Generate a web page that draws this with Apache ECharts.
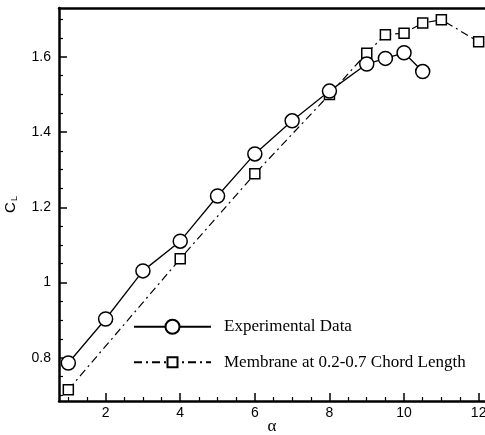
<!DOCTYPE html>
<html>
<head>
<meta charset="utf-8">
<script src="https://cdn.jsdelivr.net/npm/echarts@6/dist/echarts.min.js"></script>
<style>
  html, body { margin: 0; padding: 0; background: #fff; }
  #chart { width: 485px; height: 435px; }
</style>
</head>
<body>
<div id="chart"></div>
<script>
// Lift coefficient versus angle of attack
const expAlpha = [1, 2, 3, 4, 5, 6, 7, 8, 9, 9.5, 10, 10.5];
const expCL = [0.786, 0.903, 1.031, 1.110, 1.230, 1.342, 1.430, 1.509, 1.581, 1.596, 1.611, 1.561];

const memAlpha = [1, 4, 6, 8, 9, 9.5, 10, 10.5, 11, 12];
const memCL = [0.715, 1.063, 1.289, 1.500, 1.610, 1.659, 1.663, 1.690, 1.699, 1.640];

const seriesNames = ['Experimental Data', 'Membrane at 0.2-0.7 Chord Length'];

// Tick positions
const xMajorTicks = [2, 4, 6, 8, 10, 12];
const xMinorTicks = [1, 1.5, 2.5, 3, 3.5, 4.5, 5, 5.5, 6.5, 7, 7.5, 8.5, 9, 9.5, 10.5, 11, 11.5];
const yMajorTicks = [0.8, 1.0, 1.2, 1.4, 1.6];
const yMinorTicks = [0.7, 0.75, 0.85, 0.9, 0.95, 1.05, 1.1, 1.15, 1.25, 1.3, 1.35, 1.45, 1.5, 1.55, 1.65, 1.7];

const X_MIN = 0.75, X_MAX = 12.17;
const Y_MIN = 0.685, Y_MAX = 1.73;

const toPairs = (xs, ys) => xs.map((x, i) => [x, ys[i]]);

const chart = echarts.init(document.getElementById('chart'), null, { renderer: 'canvas' });

const axisFont = { fontFamily: 'Liberation Sans', fontSize: 14, color: '#000' };

const baseX = {
  type: 'value', min: X_MIN, max: X_MAX, splitLine: { show: false }
};
const baseY = {
  type: 'value', min: Y_MIN, max: Y_MAX, splitLine: { show: false }
};

const legendText = { fontFamily: 'Liberation Serif', fontSize: 17, color: '#000', padding: [0, 0, 0, 8] };

chart.setOption({
  animation: false,
  backgroundColor: '#fff',
  grid: { left: 59, top: 8, right: 0, bottom: 34, containLabel: false, outerBoundsMode: 'none' },
  xAxis: [
    Object.assign({}, baseX, {
      position: 'bottom',
      name: 'α',
      nameLocation: 'middle',
      nameGap: 17,
      nameMoveOverlap: false,
      nameTextStyle: { fontFamily: 'Liberation Serif', fontSize: 17, color: '#000' },
      axisLine: { show: true, lineStyle: { color: '#000', width: 2.5 } },
      axisTick: { show: true, inside: true, length: 8, customValues: xMajorTicks, lineStyle: { color: '#000', width: 1.5 } },
      axisLabel: Object.assign({ show: true, margin: 5, customValues: xMajorTicks }, axisFont)
    }),
    Object.assign({}, baseX, {
      position: 'bottom',
      axisLine: { show: false },
      axisTick: { show: true, inside: true, length: 4, customValues: xMinorTicks, lineStyle: { color: '#000', width: 1.2 } },
      axisLabel: { show: false }
    }),
    Object.assign({}, baseX, {
      position: 'top',
      axisLine: { show: true, lineStyle: { color: '#000', width: 2.5 } },
      axisTick: { show: false },
      axisLabel: { show: false }
    })
  ],
  yAxis: [
    Object.assign({}, baseY, {
      position: 'left',
      name: '{c|C}{l|L}',
      nameLocation: 'middle',
      nameRotate: 90,
      nameGap: 40,
      nameMoveOverlap: false,
      nameTextStyle: {
        rich: {
          c: { fontFamily: 'Liberation Sans', fontSize: 15, color: '#000' },
          l: { fontFamily: 'Liberation Sans', fontSize: 9, color: '#000', padding: [8, 0, 0, 1] }
        }
      },
      axisLine: { show: true, lineStyle: { color: '#000', width: 2.5 } },
      axisTick: { show: true, inside: true, length: 8, customValues: yMajorTicks, lineStyle: { color: '#000', width: 1.5 } },
      axisLabel: Object.assign({ show: true, margin: 8, customValues: yMajorTicks }, axisFont)
    }),
    Object.assign({}, baseY, {
      position: 'left',
      axisLine: { show: false },
      axisTick: { show: true, inside: true, length: 4, customValues: yMinorTicks, lineStyle: { color: '#000', width: 1.2 } },
      axisLabel: { show: false }
    })
  ],
  legend: [
    {
      data: [seriesNames[0]],
      left: 133, top: 318.25,
      padding: 0,
      itemWidth: 77, itemHeight: 17.5,
      textStyle: legendText,
      selectedMode: false
    },
    {
      data: [seriesNames[1]],
      left: 133, top: 353.75,
      padding: 0,
      itemWidth: 77, itemHeight: 12.5,
      textStyle: legendText,
      selectedMode: false
    }
  ],
  series: [
    {
      name: seriesNames[1],
      type: 'line',
      xAxisIndex: 0, yAxisIndex: 0,
      data: toPairs(memAlpha, memCL),
      symbol: 'rect',
      symbolSize: 10,
      showAllSymbol: true,
      lineStyle: { color: '#000', width: 1.2, type: [8, 4, 2, 4] },
      itemStyle: { color: '#fff', borderColor: '#000', borderWidth: 1.5 },
      emphasis: { disabled: true },
      z: 2
    },
    {
      name: seriesNames[0],
      type: 'line',
      xAxisIndex: 0, yAxisIndex: 0,
      data: toPairs(expAlpha, expCL),
      symbol: 'circle',
      symbolSize: 14,
      showAllSymbol: true,
      lineStyle: { color: '#000', width: 1.3, type: 'solid' },
      itemStyle: { color: '#fff', borderColor: '#000', borderWidth: 1.5 },
      emphasis: { disabled: true },
      z: 3
    }
  ]
});
</script>
</body>
</html>
